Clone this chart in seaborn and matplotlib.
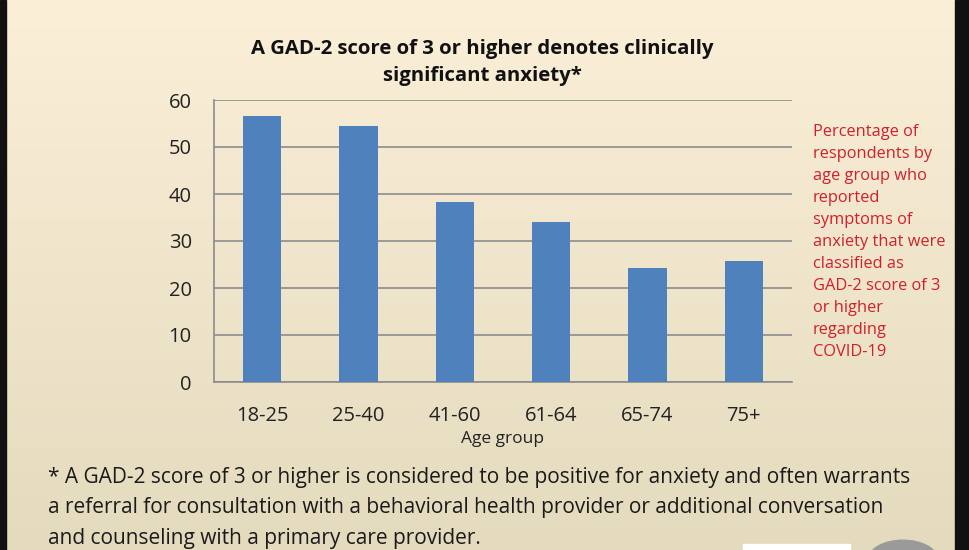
import numpy as np
import pandas as pd
import matplotlib
matplotlib.use("Agg")
from matplotlib import pyplot as plt
from matplotlib.patches import Rectangle, Circle
import seaborn as sns

age_groups = ["18-25", "25-40", "41-60", "61-64", "65-74", "75+"]
pct_anxiety = [56.5, 54.4, 38.4, 34.0, 24.3, 25.8]
y_ticks = [0, 10, 20, 30, 40, 50, 60]

title = "A GAD-2 score of 3 or higher denotes clinically\nsignificant anxiety*"
side_note = ("Percentage of\nrespondents by\nage group who\nreported\nsymptoms of\n"
             "anxiety that were\nclassified as\nGAD-2 score of 3\nor higher\nregarding\nCOVID-19")
footnote = ("* A GAD-2 score of 3 or higher is considered to be positive for anxiety and often warrants\n"
            "a referral for consultation with a behavioral health provider or additional conversation\n"
            "and counseling with a primary care provider.")

sns.set_style("white")
plt.rcParams["font.family"] = ["Open Sans", "DejaVu Sans"]

df = pd.DataFrame({"age": age_groups, "pct": pct_anxiety})

fig = plt.figure(figsize=(9.7, 5.5), dpi=100)

# background gradient
bg = fig.add_axes([0, 0, 1, 1], zorder=-10)
top = np.array([251, 239, 216]) / 255
bot = np.array([228, 219, 190]) / 255
t = np.linspace(0, 1, 256)[:, None, None]
grad = top * (1 - t) + bot * t
grad = np.repeat(grad, 2, axis=1)
bg.imshow(grad, aspect="auto", extent=[0, 1, 0, 1])
bg.set_xlim(0, 1)
bg.set_ylim(0, 1)
bg.axis("off")
bg.add_patch(Rectangle((0, 0), 6 / 970, 1, color="#111111"))
bg.add_patch(Rectangle((955 / 970, 0), 15 / 970, 1, color="#111111"))
bg.add_patch(Rectangle((743 / 970, 0), 107 / 970, 6 / 550, color="white"))
bg.add_patch(Circle((903 / 970, -10 / 550), 0.036, color="#9a9a9a", transform=bg.transAxes))

ax = fig.add_axes([214 / 970, 1 - 382 / 550, 578 / 970, 282 / 550])
ax.set_facecolor("none")
sns.barplot(data=df, x="age", y="pct", color="#4F81BD", saturation=1, width=0.4,
            linewidth=0, ax=ax, zorder=3)
ax.set_ylim(0, 60)
ax.set_xlim(-0.5, 5.5)
ax.set_yticks(y_ticks)
ax.yaxis.grid(True, color="#8c8c8c", linewidth=1.2, zorder=0)
ax.set_axisbelow(True)
for s in ["top", "right"]:
    ax.spines[s].set_visible(False)
for s in ["left", "bottom"]:
    ax.spines[s].set_color("#8c8c8c")
    ax.spines[s].set_linewidth(1.2)
ax.tick_params(axis="y", length=6, color="#8c8c8c", width=1.2, labelsize=14.5, pad=10, labelcolor="#222222")
ax.tick_params(axis="x", which="major", length=0, labelsize=14.5, pad=17, labelcolor="#222222")
ax.set_xticks(np.arange(-0.5, 6, 1), minor=True)
ax.tick_params(axis="x", which="minor", length=6, color="#8c8c8c", width=1.2)
ax.set_xlabel("Age group", fontsize=12.5, color="#222222", labelpad=4)
ax.set_ylabel("")

fig.text(482 / 970, 1 - 62.5 / 550, title, ha="center", va="center", fontsize=14.7,
         fontweight="bold", color="#111111", linespacing=1.52)
fig.text(813 / 970, 1 - 124 / 550, side_note, ha="left", va="top", fontsize=11.8,
         color="#D0202A", linespacing=1.5)
fig.text(48 / 970, 1 - 508 / 550, footnote, ha="left", va="center", fontsize=15,
         color="#1a1a1a", linespacing=1.6)

fig.savefig("out.png", dpi=100)
